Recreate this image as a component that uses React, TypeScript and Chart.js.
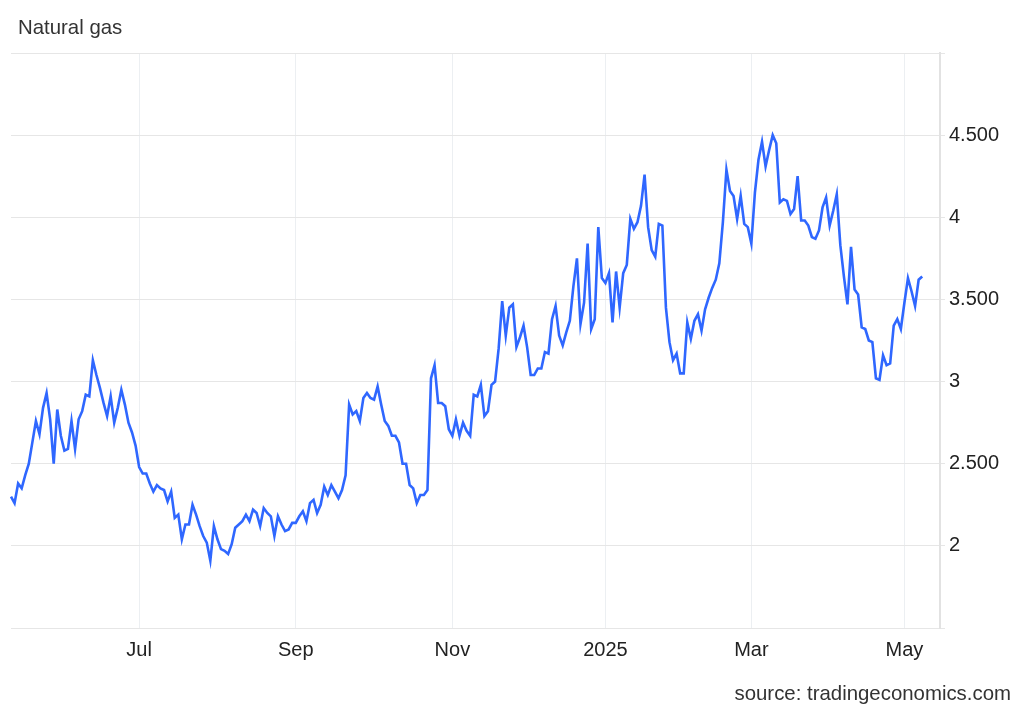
import React, { useEffect, useRef } from 'react';
import { Chart, registerables } from 'chart.js';

Chart.register(...registerables);

// Daily settlement values (USD/MMBtu), grouped by month
const may24 = [2.30, 2.26, 2.38, 2.35, 2.43, 2.50, 2.63, 2.76, 2.68, 2.84, 2.93, 2.77, 2.50, 2.83, 2.67, 2.58, 2.59];
const jun24 = [2.76, 2.59, 2.77, 2.82, 2.92, 2.91, 3.13, 3.04, 2.96, 2.87, 2.79, 2.91, 2.75, 2.84, 2.95, 2.86, 2.75, 2.69, 2.61];
const jul24 = [2.48, 2.44, 2.44, 2.38, 2.33, 2.37, 2.35, 2.34, 2.27, 2.33, 2.17, 2.19, 2.04, 2.13, 2.13, 2.25, 2.19, 2.12, 2.06, 2.02, 1.91, 2.12];
const aug24 = [2.04, 1.98, 1.97, 1.95, 2.01, 2.11, 2.13, 2.15, 2.19, 2.15, 2.22, 2.20, 2.12, 2.23, 2.20, 2.18, 2.06, 2.18, 2.13, 2.09, 2.10, 2.14];
const sep24 = [2.14, 2.18, 2.21, 2.15, 2.26, 2.28, 2.20, 2.25, 2.36, 2.31, 2.37, 2.33, 2.29, 2.34, 2.43, 2.86, 2.80, 2.82, 2.76, 2.90, 2.93];
const oct24 = [2.90, 2.89, 2.97, 2.86, 2.76, 2.73, 2.67, 2.67, 2.63, 2.50, 2.50, 2.37, 2.35, 2.26, 2.31, 2.31, 2.34, 3.02, 3.10, 2.87, 2.87, 2.85, 2.71];
const nov24 = [2.67, 2.77, 2.67, 2.75, 2.70, 2.67, 2.92, 2.91, 2.98, 2.79, 2.82, 2.98, 3.00, 3.20, 3.49, 3.28, 3.45, 3.47, 3.21, 3.27, 3.34];
const dec24 = [3.21, 3.04, 3.04, 3.08, 3.08, 3.18, 3.17, 3.38, 3.46, 3.28, 3.22, 3.30, 3.37, 3.58, 3.75, 3.35, 3.48, 3.84, 3.32, 3.38, 3.94, 3.63];
const jan25 = [3.60, 3.66, 3.36, 3.67, 3.45, 3.66, 3.71, 3.99, 3.93, 3.97, 4.07, 4.26, 3.94, 3.80, 3.76, 3.96, 3.95, 3.45, 3.24, 3.13, 3.17, 3.05];
const feb25 = [3.05, 3.36, 3.26, 3.37, 3.41, 3.31, 3.44, 3.51, 3.57, 3.62, 3.72, 3.97, 4.29, 4.16, 4.13, 3.99, 4.13, 3.96, 3.94];
const mar25 = [3.84, 4.15, 4.35, 4.46, 4.31, 4.41, 4.50, 4.45, 4.09, 4.11, 4.10, 4.02, 4.05, 4.25, 3.98, 3.98, 3.95, 3.88, 3.87, 3.92, 4.06];
const apr25 = [4.12, 3.95, 4.04, 4.14, 3.83, 3.64, 3.47, 3.82, 3.56, 3.53, 3.33, 3.32, 3.25, 3.24, 3.02, 3.01, 3.16, 3.10, 3.11, 3.34, 3.38, 3.32];
const may25 = [3.48, 3.63, 3.55, 3.46, 3.62, 3.64];

const monthSeries = [may24, jun24, jul24, aug24, sep24, oct24, nov24, dec24, jan25, feb25, mar25, apr25, may25];
const monthNames = ['May 2024', 'Jun', 'Jul', 'Aug', 'Sep', 'Oct', 'Nov', 'Dec', '2025', 'Feb', 'Mar', 'Apr', 'May'];
const tickLabels = ['Jul', 'Sep', 'Nov', '2025', 'Mar', 'May'];
// empty trading-day slots to the right of the last value (axis runs a few days past the data)
const trailingSlots = 5;

const yMin = 1.5;
const yMax = 5;
const yStep = 0.5;

const FONT = '"Liberation Sans", Arial, Helvetica, sans-serif';

export default function App() {
  const canvasRef = useRef<HTMLCanvasElement | null>(null);

  useEffect(() => {
    document.body.style.margin = '0';
    const canvas = canvasRef.current;
    if (!canvas) return;

    const labels: string[] = [];
    const values: number[] = [];
    monthSeries.forEach((arr, m) => {
      arr.forEach((v, i) => {
        labels.push(i === 0 ? monthNames[m] : '');
        values.push(v);
      });
    });
    for (let k = 0; k < trailingSlots; k++) labels.push('');

    const chart = new Chart(canvas, {
      type: 'line',
      data: {
        labels,
        datasets: [
          {
            data: values,
            borderColor: '#2f67ff',
            borderWidth: 2.6,
            pointRadius: 0,
            pointHoverRadius: 0,
            tension: 0,
            fill: false,
          },
        ],
      },
      options: {
        responsive: false,
        animation: false,
        devicePixelRatio: 1,
        layout: { padding: { left: 11, top: 53, right: 0, bottom: 0 } },
        plugins: {
          legend: { display: false },
          tooltip: { enabled: false },
          title: { display: false },
        },
        scales: {
          x: {
            type: 'category',
            offset: false,
            grid: {
              color: '#eceff2',
              lineWidth: 1,
              drawTicks: false,
            },
            border: { display: false },
            ticks: {
              autoSkip: false,
              maxRotation: 0,
              minRotation: 0,
              padding: 10,
              color: '#222',
              font: { family: FONT, size: 20 },
              callback: (_v: any, idx: number) => {
                const l = labels[idx];
                return tickLabels.includes(l) ? l : null;
              },
            },
            afterFit: (s: any) => {
              s.height = 82;
            },
          },
          y: {
            type: 'linear',
            position: 'right',
            min: yMin,
            max: yMax,
            grid: {
              color: '#e6e6e6',
              lineWidth: 1,
              drawTicks: true,
              tickLength: 5,
            },
            border: { display: true, color: '#e2e2e2', width: 2 },
            ticks: {
              stepSize: yStep,
              padding: 4,
              color: '#222',
              font: { family: FONT, size: 20 },
              callback: (v: any) => {
                const n = Number(v);
                if (n === yMin || n === yMax) return '';
                return Number.isInteger(n) ? String(n) : n.toFixed(3);
              },
            },
            afterFit: (s: any) => {
              s.width = 84;
            },
          },
        },
      },
    });

    return () => {
      chart.destroy();
    };
  }, []);

  return (
    <div style={{ position: 'relative', width: 1024, height: 710, background: '#fff', overflow: 'hidden' }}>
      <canvas ref={canvasRef} width={1024} height={710} style={{ position: 'absolute', left: 0, top: 0, width: 1024, height: 710 }} />
      <div
        style={{
          position: 'absolute',
          left: 18,
          top: 17,
          fontFamily: FONT,
          fontSize: 20.4,
          lineHeight: '20px',
          color: '#333',
          whiteSpace: 'nowrap',
        }}
      >
        Natural gas
      </div>
      <div
        style={{
          position: 'absolute',
          right: 13,
          top: 683,
          fontFamily: FONT,
          fontSize: 20.4,
          lineHeight: '20px',
          color: '#333',
          whiteSpace: 'nowrap',
        }}
      >
        source: tradingeconomics.com
      </div>
    </div>
  );
}
